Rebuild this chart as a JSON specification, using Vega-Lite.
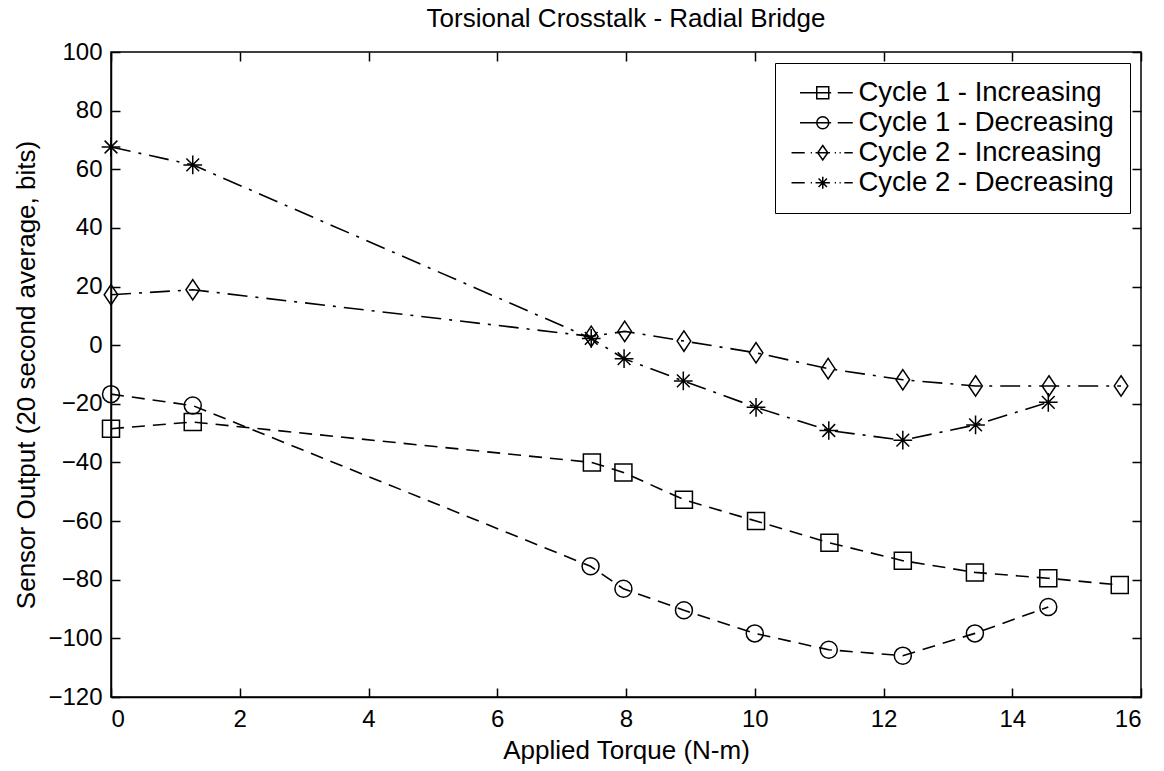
{
  "$schema": "https://vega.github.io/schema/vega-lite/v6.json",
  "width": 1030,
  "height": 645,
  "autosize": {"type": "none"},
  "padding": {"left": 111, "top": 52, "right": 23, "bottom": 74},
  "background": "white",
  "title": {"text": "Torsional Crosstalk - Radial Bridge", "fontSize": 26, "font": "Liberation Sans, Arial, sans-serif", "fontWeight": "normal", "color": "black", "offset": 8},
  "config": {
    "font": "Liberation Sans, Arial, sans-serif",
    "view": {"stroke": "black", "strokeWidth": 1.5},
    "axis": {"labelFontSize": 24, "titleFontSize": 26, "titleFontWeight": "normal", "labelColor": "black", "titleColor": "black", "domainColor": "black", "tickColor": "black", "grid": false, "tickSize": -9, "domainWidth": 1.5, "tickWidth": 1.5}
  },
  "data": {"values": [
    {"series": "Cycle 1 - Increasing", "x": 0, "y": -28.5},
    {"series": "Cycle 1 - Increasing", "x": 1.27, "y": -26.2},
    {"series": "Cycle 1 - Increasing", "x": 7.47, "y": -40.0},
    {"series": "Cycle 1 - Increasing", "x": 7.96, "y": -43.4},
    {"series": "Cycle 1 - Increasing", "x": 8.9, "y": -52.7},
    {"series": "Cycle 1 - Increasing", "x": 10.02, "y": -60.0},
    {"series": "Cycle 1 - Increasing", "x": 11.16, "y": -67.4},
    {"series": "Cycle 1 - Increasing", "x": 12.3, "y": -73.5},
    {"series": "Cycle 1 - Increasing", "x": 13.42, "y": -77.5},
    {"series": "Cycle 1 - Increasing", "x": 14.56, "y": -79.5},
    {"series": "Cycle 1 - Increasing", "x": 15.67, "y": -81.8},
    {"series": "Cycle 1 - Decreasing", "x": 0, "y": -16.7},
    {"series": "Cycle 1 - Decreasing", "x": 1.27, "y": -20.6},
    {"series": "Cycle 1 - Decreasing", "x": 7.45, "y": -75.4},
    {"series": "Cycle 1 - Decreasing", "x": 7.96, "y": -83.1},
    {"series": "Cycle 1 - Decreasing", "x": 8.9, "y": -90.4},
    {"series": "Cycle 1 - Decreasing", "x": 10.0, "y": -98.3},
    {"series": "Cycle 1 - Decreasing", "x": 11.15, "y": -103.9},
    {"series": "Cycle 1 - Decreasing", "x": 12.3, "y": -105.9},
    {"series": "Cycle 1 - Decreasing", "x": 13.42, "y": -98.3},
    {"series": "Cycle 1 - Decreasing", "x": 14.56, "y": -89.3},
    {"series": "Cycle 2 - Increasing", "x": 0, "y": 17.2},
    {"series": "Cycle 2 - Increasing", "x": 1.27, "y": 18.9},
    {"series": "Cycle 2 - Increasing", "x": 7.46, "y": 3.0},
    {"series": "Cycle 2 - Increasing", "x": 7.98, "y": 4.7},
    {"series": "Cycle 2 - Increasing", "x": 8.9, "y": 1.4},
    {"series": "Cycle 2 - Increasing", "x": 10.02, "y": -2.6},
    {"series": "Cycle 2 - Increasing", "x": 11.14, "y": -8.0},
    {"series": "Cycle 2 - Increasing", "x": 12.3, "y": -11.8},
    {"series": "Cycle 2 - Increasing", "x": 13.43, "y": -13.9},
    {"series": "Cycle 2 - Increasing", "x": 14.57, "y": -13.9},
    {"series": "Cycle 2 - Increasing", "x": 15.69, "y": -13.9},
    {"series": "Cycle 2 - Decreasing", "x": 0, "y": 67.6},
    {"series": "Cycle 2 - Decreasing", "x": 1.27, "y": 61.5},
    {"series": "Cycle 2 - Decreasing", "x": 7.46, "y": 2.3},
    {"series": "Cycle 2 - Decreasing", "x": 7.97, "y": -4.6},
    {"series": "Cycle 2 - Decreasing", "x": 8.89, "y": -12.2},
    {"series": "Cycle 2 - Decreasing", "x": 10.02, "y": -21.2},
    {"series": "Cycle 2 - Decreasing", "x": 11.15, "y": -29.1},
    {"series": "Cycle 2 - Decreasing", "x": 12.3, "y": -32.4},
    {"series": "Cycle 2 - Decreasing", "x": 13.43, "y": -27.2},
    {"series": "Cycle 2 - Decreasing", "x": 14.56, "y": -19.5}
  ]},
  "layer": [
    {
      "mark": {"type": "line", "color": "black", "strokeWidth": 1.6},
      "encoding": {
        "x": {"field": "x", "type": "quantitative", "scale": {"domain": [0, 16], "nice": false, "zero": false}, "axis": {"values": [0,2,4,6,8,10,12,14,16], "title": "Applied Torque (N-m)", "labelPadding": 19, "titlePadding": 6}},
        "y": {"field": "y", "type": "quantitative", "scale": {"domain": [-120, 100], "nice": false, "zero": false}, "axis": {"values": [-120,-100,-80,-60,-40,-20,0,20,40,60,80,100], "title": "Sensor Output (20 second average, bits)", "labelPadding": 18, "titlePadding": 8}},
        "detail": {"field": "series", "type": "nominal"},
        "strokeDash": {"condition": {"test": "indexof(datum.series, 'Cycle 1') >= 0", "value": [13, 8]}, "value": [20, 8, 3, 8]}
      }
    },
    {
      "mark": {"type": "point", "filled": false, "color": "black", "strokeWidth": 1.5, "size": 289, "opacity": 1},
      "encoding": {
        "x": {"field": "x", "type": "quantitative", "axis": {"orient": "top", "values": [0,2,4,6,8,10,12,14,16], "labels": false, "title": null, "domain": false}},
        "y": {"field": "y", "type": "quantitative", "axis": {"orient": "right", "values": [-120,-100,-80,-60,-40,-20,0,20,40,60,80,100], "labels": false, "title": null, "domain": false}},
        "shape": {"field": "series", "type": "nominal", "scale": {"range": ["circle", "square", "M-1.1,0L1.1,0M0,-1.1L0,1.1M-0.75,-0.75L0.75,0.75M-0.75,0.75L0.75,-0.75", "M0,-1.2L0.8,0L0,1.2L-0.8,0Z"]}, "legend": null}
      }
    },
    {
      "transform": [{"filter": "false"}],
      "mark": {"type": "point", "filled": false, "color": "black", "strokeWidth": 1.5, "opacity": 1},
      "encoding": {
        "shape": {"field": "series", "type": "nominal",
          "scale": {"domain": ["Cycle 1 - Increasing", "Cycle 1 - Decreasing", "Cycle 2 - Increasing", "Cycle 2 - Decreasing"],
            "range": [
              "M-1.9,0L0.7,0M-0.5,-0.5L0.5,-0.5L0.5,0.5L-0.5,0.5ZM1.25,0L2.5,0",
              "M-1.9,0L0.7,0M0.5,0A0.5,0.5 0 1,1 -0.5,0A0.5,0.5 0 1,1 0.5,0M1.25,0L2.5,0",
              "M-2.6,0L-1.5,0M-1.0,0L-0.9,0M-0.6,0L0.6,0M0,-0.6L0.42,0L0,0.6L-0.42,0ZM1.0,0L1.1,0M1.4,0L1.5,0M1.8,0L2.5,0",
              "M-2.6,0L-1.5,0M-1.0,0L-0.9,0M-0.6,0L0.6,0M-0.5,0L0.5,0M0,-0.5L0,0.5M-0.35,-0.35L0.35,0.35M-0.35,0.35L0.35,-0.35M1.0,0L1.1,0M1.4,0L1.5,0M1.8,0L2.5,0"
            ]},
          "legend": {
            "title": null, "orient": "top-right", "offset": 11, "padding": 16, "fillColor": "white", "strokeColor": "black",
            "symbolSize": 576, "symbolStrokeWidth": 1.5, "symbolStrokeColor": "black", "symbolFillColor": "transparent", "symbolOpacity": 1, "symbolOffset": 18,
            "labelFontSize": 27.5, "labelColor": "black", "labelOffset": 22, "rowPadding": 1, "labelLimit": 400
          }
        }
      }
    }
  ],
  "resolve": {"axis": {"x": "independent", "y": "independent"}, "scale": {"shape": "independent"}}
}
